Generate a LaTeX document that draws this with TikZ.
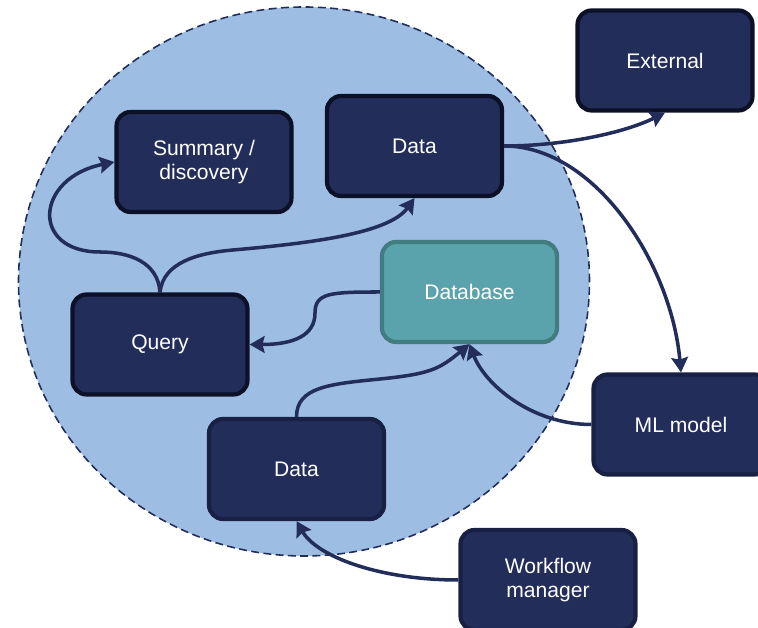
\documentclass[tikz,border=0pt]{standalone}
\usepackage{fontspec}
\setmainfont{Liberation Sans}
\usepackage{tikz}
\usetikzlibrary{arrows.meta}
\definecolor{poolfill}{RGB}{157,189,227}
\definecolor{navy}{RGB}{34,45,90}
\definecolor{navyline}{RGB}{12,17,40}
\definecolor{navysoft}{RGB}{24,32,68}
\definecolor{tealfill}{RGB}{91,163,172}
\definecolor{tealline}{RGB}{64,124,128}
\tikzset{
    box/.style={draw=navyline, fill=navy, line width=2.4pt, rounded corners=8pt,
      minimum width=3.5cm, minimum height=2cm, align=center, text=white,
      font=\fontsize{12}{14}\selectfont},
    softbox/.style={box, draw=navysoft},
    dbbox/.style={box, draw=tealline, fill=tealfill},
    flow/.style={draw=navy, line width=2pt,
      -{Stealth[length=8.5pt,width=9.5pt,inset=1.2pt]}}
}

\begin{document}
\begin{tikzpicture}[x=0.02cm,y=0.02cm]
    \useasboundingbox (0,0) rectangle (758,628);
    \draw[navy, fill=poolfill, line width=0.9pt, dash pattern=on 4.5pt off 2.5pt]
      (304,346.5) ellipse [x radius=285.5, y radius=274.5];
    \node[box] (summary) at (204,466) {Summary /\\discovery};
    \node[box] (datatop) at (414.5,482) {Data};
    \node[box] (external) at (665,567.5) {External};
    \node[dbbox] (database) at (469.5,336) {Database};
    \node[box] (query) at (160,283.5) {Query};
    \node[softbox] (databot) at (296.5,159) {Data};
    \node[softbox] (mlmodel) at (681,203.5) {ML model};
    \node[softbox] (workflow) at (548,48) {Workflow\\manager};
    \draw[flow] (query.north) .. controls +(-2,30) and +(30,0) .. (100,376)
      .. controls (30,376) and (35,450) .. (summary.west);
    \draw[flow] (query.north) .. controls +(3,30) and +(-35,-3) .. (233,378)
      .. controls +(80,7) and +(-25,-35) .. (datatop.south);
    \draw[flow] (database.west) .. controls +(-50,0) and +(0,20) .. (315,315)
      .. controls +(0,-22) and +(45,0) .. (query.east);
    \draw[flow] (databot.north) .. controls +(0,30) and +(-50,-5) .. (380,249)
      .. controls +(50,5) and +(-30,-25) .. (database.south);
    \draw[flow] (mlmodel.west) .. controls +(-60,0) and +(15,-40) .. (database.south);
    \draw[flow] (datatop.east) .. controls +(60,0) and +(-40,-20) .. (external.south);
    \draw[flow] (datatop.east) .. controls +(90,0) and +(-10,110) .. (mlmodel.north);
    \draw[flow] (workflow.west) .. controls +(-80,0) and +(20,-35) .. (databot.south);
\end{tikzpicture}
\end{document}
